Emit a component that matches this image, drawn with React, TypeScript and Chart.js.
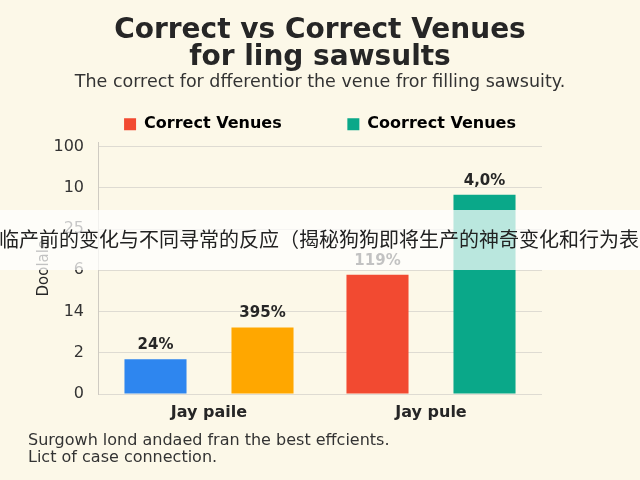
import React, { useEffect, useRef } from "react";
import { Chart, registerables } from "chart.js";

Chart.register(...registerables);

const FONT = "'DejaVu Sans'";

const titleLines = ["Correct vs Correct Venues", "for ling sawsults"];
const subtitleText = "The correct for dfferentior the venιe fror filling sawsuity.";
const categories = ["Jay paile", "Jay pule"];
const seriesNames = ["Correct Venues", "Coorrect Venues"];
const legendColors = ["#f24a31", "#0aa889"];
// bar heights in units of the (evenly spaced) gridline rows
const firstBars = [0.84, 2.89];
const secondBars = [1.61, 4.83];
const firstColors = ["#2e86ef", "#f24a31"];
const secondColors = ["#ffa700", "#0aa889"];
const firstLabels = ["24%", "119%"];
const secondLabels = ["395%", "4,0%"];
const yTickLabels = ["0", "2", "14", "6", "25", "10", "100"];
const yAxisTitle = "Doolale";
const footerLines = [
  "Surgowh lond andaed fran the best effcients.",
  "Lict of case connection.",
];
const bannerText =
  "临产前的变化与不同寻常的反应（揭秘狗狗即将生产的神奇变化和行为表现）";

const barLabelPlugin = {
  id: "barLabels",
  afterDatasetsDraw(chart: any) {
    const ctx = chart.ctx;
    const sets = [firstLabels, secondLabels];
    ctx.save();
    ctx.font = "bold 15px " + FONT;
    ctx.fillStyle = "#262626";
    ctx.textAlign = "center";
    ctx.textBaseline = "middle";
    chart.data.datasets.forEach((_: any, di: number) => {
      const meta = chart.getDatasetMeta(di);
      meta.data.forEach((bar: any, i: number) => {
        ctx.fillText(sets[di][i], bar.x, bar.y - 14);
      });
    });
    ctx.restore();
  },
};

const footerPlugin = {
  id: "footerText",
  afterDraw(chart: any) {
    const ctx = chart.ctx;
    ctx.save();
    ctx.font = "16px " + FONT;
    ctx.fillStyle = "#333333";
    ctx.textAlign = "left";
    ctx.textBaseline = "middle";
    footerLines.forEach((line, i) => {
      ctx.fillText(line, 28, 441 + i * 16.5);
    });
    ctx.restore();
  },
};

export default function App() {
  const ref = useRef<HTMLCanvasElement | null>(null);

  useEffect(() => {
    if (!ref.current) return;
    const chart = new Chart(ref.current, {
      type: "bar",
      data: {
        labels: categories,
        datasets: [
          {
            label: seriesNames[0],
            data: firstBars,
            backgroundColor: firstColors,
            barPercentage: 0.58,
            categoryPercentage: 0.964,
          },
          {
            label: seriesNames[1],
            data: secondBars,
            backgroundColor: secondColors,
            barPercentage: 0.58,
            categoryPercentage: 0.964,
          },
        ],
      },
      options: {
        responsive: false,
        animation: false,
        devicePixelRatio: 1,
        layout: { padding: { left: 0, right: 0, top: 0, bottom: 48 } },
        plugins: {
          title: {
            display: true,
            text: titleLines,
            color: "#262626",
            font: { family: FONT, size: 28, weight: "bold", lineHeight: 0.964 },
            padding: { top: 17.5, bottom: 1.5 },
          },
          subtitle: {
            display: true,
            text: subtitleText,
            color: "#333333",
            font: { family: FONT, size: 17.5, lineHeight: 1.03 },
            padding: { top: 0, bottom: 15.25 },
          },
          legend: {
            display: true,
            labels: {
              boxWidth: 12,
              boxHeight: 12,
              padding: 10,
              color: "#262626",
              font: { family: FONT, size: 16, weight: "bold" },
              generateLabels: () =>
                seriesNames.map((name, i) => ({
                  text: i === 0 ? name + "\u00a0".repeat(10) : name,
                  fillStyle: legendColors[i],
                  strokeStyle: legendColors[i],
                  lineWidth: 0,
                  hidden: false,
                  datasetIndex: i,
                })),
            },
          },
          tooltip: { enabled: false },
        },
        scales: {
          x: {
            grid: { display: false, drawTicks: false },
            border: { display: false },
            ticks: {
              padding: 9.4,
              color: "#262626",
              font: { family: FONT, size: 16, weight: "bold" },
            },
          },
          y: {
            min: 0,
            max: 6.104,
            afterFit: (axis: any) => {
              axis.width = 98;
            },
            grid: { color: "#dedbd2", lineWidth: 1, drawTicks: false },
            border: { display: true, color: "#cfcbc2" },
            title: {
              display: true,
              text: yAxisTitle,
              color: "#262626",
              font: { family: FONT, size: 15 },
              padding: { top: 35, bottom: 4 },
            },
            ticks: {
              stepSize: 1,
              includeBounds: false,
              padding: 14,
              color: "#333333",
              font: { family: FONT, size: 16 },
              callback: (v: any) => yTickLabels[Math.round(Number(v))] ?? "",
            },
          },
          yRight: {
            position: "right",
            display: true,
            afterFit: (axis: any) => {
              axis.width = 98;
            },
            grid: { display: false, drawTicks: false },
            border: { display: false },
            ticks: { display: false },
          },
        },
      },
      plugins: [barLabelPlugin, footerPlugin],
    } as any);
    return () => chart.destroy();
  }, []);

  return (
    <div
      style={{
        position: "fixed",
        left: 0,
        top: 0,
        width: 640,
        height: 480,
        background: "#fcf8e8",
        overflow: "hidden",
      }}
    >
      <canvas ref={ref} width={640} height={480} style={{ display: "block" }} />
      <div
        style={{
          position: "absolute",
          left: -1,
          top: 210,
          width: 660,
          height: 60,
          background: "rgba(255,255,255,0.72)",
          color: "#222222",
          fontFamily: "'Noto Sans CJK SC', sans-serif",
          fontSize: 20,
          lineHeight: "58px",
          whiteSpace: "nowrap",
          overflow: "hidden",
        }}
      >
        {bannerText}
      </div>
    </div>
  );
}
